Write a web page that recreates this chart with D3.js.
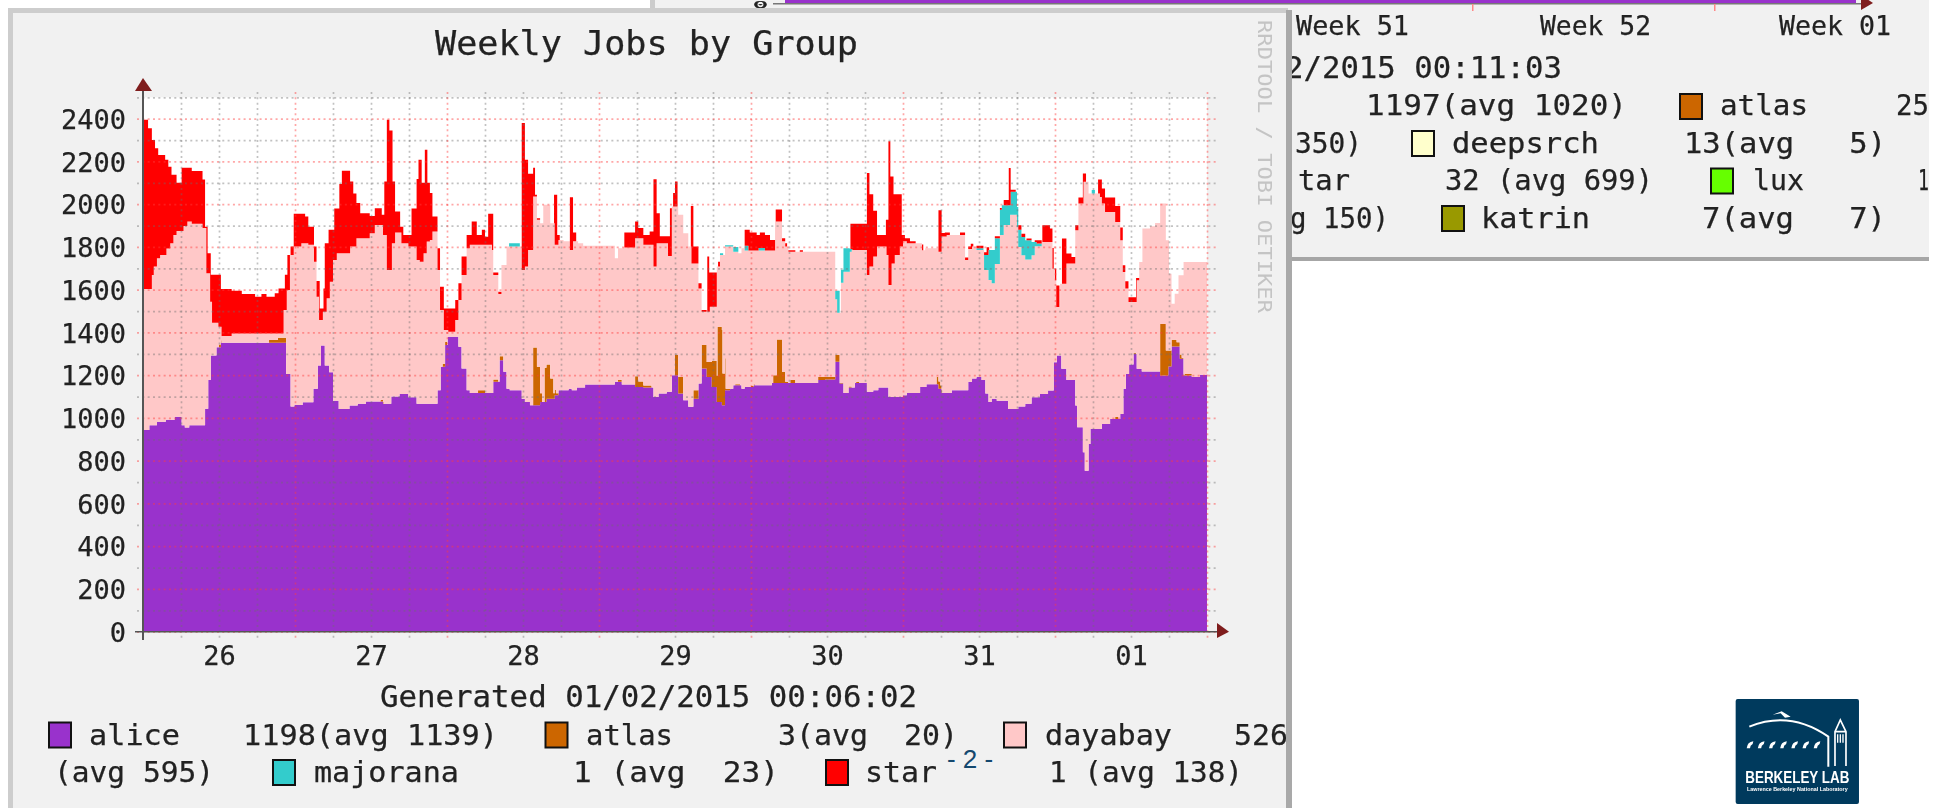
<!DOCTYPE html>
<html>
<head>
<meta charset="utf-8">
<script src="https://cdn.jsdelivr.net/npm/d3@7"></script>
<style>
  html, body { margin: 0; padding: 0; background: #fff; }
  svg { display: block; }
  text { font-family: "DejaVu Sans Mono", monospace; fill: #222; white-space: pre; stroke: #222; stroke-width: 0.25px; }
  .soft { filter: blur(0.55px); }
</style>
</head>
<body>
<svg id="slide" width="1946" height="808"></svg>
<script>
// every series is a list of [hours since the left edge, value], held until the next entry
var alice = [[0,943],[1,966],[2.2,982],[3.6,992],[5,1005],[6.1,966],[6.6,955],[7.3,966],[9.8,1043],[10.3,1177],[10.7,1292],[11.6,1331],[12.3,1352],[22.6,1206],[23.3,1053],[23.9,1061],[25.2,1073],[26.9,1136],[27.6,1245],[28.1,1339],[28.7,1245],[29.4,1214],[30,1081],[30.9,1042],[32.6,1058],[33.9,1066],[35.2,1077],[37.9,1066],[39.2,1100],[40.5,1112],[41.9,1097],[43.2,1066],[46.5,1130],[47,1239],[47.7,1341],[48.1,1380],[49.8,1333],[50.3,1231],[51.1,1130],[51.6,1117],[55.3,1169],[56.3,1270],[56.9,1216],[57.4,1137],[57.9,1130],[59.8,1090],[60.3,1075],[61.1,1059],[62.7,1075],[63.7,1090],[65,1106],[65.6,1130],[67.2,1137],[67.7,1130],[68.5,1142],[69.8,1156],[74.5,1169],[75.6,1156],[77.7,1145],[79,1142],[80.6,1098],[81.4,1114],[82.7,1122],[83.5,1200],[84.5,1114],[85.3,1083],[86.1,1052],[86.9,1090],[87.7,1161],[88.2,1231],[89,1192],[89.8,1145],[90.6,1075],[91.4,1059],[91.9,1130],[92.7,1137],[93.2,1153],[94.5,1137],[95,1145],[96.4,1153],[99.3,1164],[106.6,1177],[107.7,1180],[109.3,1263],[110,1161],[110.6,1117],[111.4,1142],[112.4,1164],[114.3,1122],[115.3,1130],[116.1,1142],[117.7,1098],[120,1106],[120.6,1117],[122.7,1145],[123.7,1158],[125.6,1137],[126.1,1117],[127.7,1130],[130.3,1169],[130.9,1184],[131.6,1192],[132.4,1177],[133,1114],[133.5,1075],[134,1090],[134.8,1080],[136.6,1042],[138.2,1053],[139.3,1066],[140.3,1097],[141.6,1112],[142.9,1128],[143.8,1261],[144.3,1292],[145,1230],[145.8,1178],[147.2,1058],[147.5,956],[148.4,839],[148.7,753],[149.3,878],[149.6,948],[151.4,972],[152.7,995],[154.3,1019],[154.8,1136],[155.2,1206],[155.7,1250],[156.4,1300],[156.9,1230],[157.7,1217],[160.6,1198],[161.9,1241],[162.4,1334],[163.7,1277],[164.3,1198],[165.6,1191],[166.9,1202]];
var atlas = [[0,0],[12,12],[12.4,0],[19.9,13],[21.3,23],[22.6,0],[37.5,8],[38,0],[47.3,15],[48,0],[52.9,12],[54,0],[55.3,11],[56.1,0],[56.3,19],[56.9,0],[61.6,271],[62.2,180],[62.7,40],[63,0],[63.4,160],[64.3,95],[64.8,25],[65.2,10],[65.6,0],[75,10],[75.6,0],[77.7,50],[78.2,25],[79,10],[80.3,0],[84,94],[84.5,78],[85.3,0],[86.9,40],[87.7,0],[88.2,110],[89,70],[89.8,122],[90.7,352],[91.5,149],[92,7],[92.7,0],[93.5,5],[94.3,0],[96,5],[96.6,0],[99.5,36],[100.1,203],[100.9,52],[101.4,5],[101.9,0],[102.2,13],[103,0],[106.6,15],[107.7,12],[109.3,31],[110,3],[110.6,0],[111.4,5],[111.9,0],[112.6,5],[113.1,0],[125.3,33],[125.9,15],[126.2,0],[153.5,10],[154,0],[156.4,5],[156.8,0],[160.6,242],[161.5,118],[161.9,75],[162.4,32],[163.2,20],[164,5],[164.5,8],[165.6,0]];
// the next three were read as the top edge of the stack, 0 = nothing of that group showing
var dayabayTop = [[0,1603],[1.4,1669],[1.7,1708],[2.2,1747],[2.7,1762],[3.7,1793],[4.3,1817],[4.8,1856],[5.3,1875],[6.4,1898],[7,1919],[7.7,1908],[9.4,1888],[10,1677],[10.6,1544],[10.9,1445],[11.9,1427],[12.4,1383],[14,1395],[22.2,1505],[22.7,1598],[23.2,1762],[23.8,1802],[25,1817],[26.1,1810],[27,1731],[27.4,1567],[27.8,1458],[28.4,1497],[29,1560],[29.5,1637],[30,1739],[30.6,1770],[32.7,1802],[33.7,1841],[35.8,1864],[36.6,1903],[37.9,1856],[38.5,1692],[39.3,1817],[39.8,1867],[40.8,1817],[41.9,1802],[43.2,1739],[43.7,1731],[44.3,1770],[44.8,1825],[45.3,1833],[45.7,1872],[46.5,1692],[46.9,1505],[47.5,1411],[48.2,1403],[49.3,1458],[49.8,1552],[50.3,1669],[51.1,1794],[51.6,1810],[55.1,1786],[55.3,1669],[56.1,1580],[56.6,1716],[57.4,1802],[59.8,1692],[60.3,1708],[60.8,1786],[61.6,2036],[62.2,1927],[62.7,1911],[63.2,1997],[64.3,1911],[65,1810],[65.6,1833],[66.4,1827],[67.4,1786],[67.9,1827],[68.7,1817],[69.5,1806],[74.5,1747],[75,1794],[75.8,1797],[77.7,1841],[79,1810],[80.6,1708],[81.1,1817],[82.9,1758],[83.5,1989],[84.5,1950],[85.3,1864],[86.1,1802],[86.6,1723],[87.7,1606],[88.2,1497],[89.5,1520],[90.6,1708],[91.1,1762],[91.9,1802],[93.2,1778],[94,1770],[94.5,1794],[95,1783],[99.8,1919],[100.9,1827],[101.4,1802],[101.9,1778],[109.3,1555],[109.6,1492],[110.2,1633],[110.6,1684],[111.6,1778],[111.9,1786],[114.3,1669],[114.7,1708],[115.3,1755],[115.9,1802],[117.4,1762],[117.7,1622],[118.2,1723],[118.7,1762],[119.5,1802],[120,1827],[120.6,1817],[123,1785],[123.5,1794],[125.6,1778],[126.1,1849],[126.9,1856],[129.8,1739],[130.3,1790],[130.9,1802],[131.6,1786],[132.8,1692],[133.5,1645],[134,1630],[134.5,1720],[135.3,1856],[135.9,1903],[136.9,1950],[138,1895],[138.2,1800],[138.7,1761],[139.3,1741],[140.3,1761],[140.8,1803],[141.9,1823],[143.6,1698],[144,1644],[144.2,1519],[144.8,1628],[145.8,1722],[147.2,1878],[147.7,2003],[148.5,2105],[149.3,2050],[151.1,2034],[151.4,2003],[151.9,1964],[153.5,1917],[154.3,1831],[154.7,1683],[155.1,1605],[155.6,1542],[156.9,1644],[157.3,1730],[157.8,1886],[159,1897],[159.8,1912],[160.6,2003],[161.5,1831],[162,1675],[162.4,1534],[162.9,1581],[163.5,1667],[164.3,1730]];
var majoranaTop = [[0,0],[57.8,1817],[59.5,0],[91.1,1770],[91.6,0],[91.9,1808],[93.2,1800],[94,0],[95,1806],[95.6,0],[97.2,1795],[98.2,0],[109.3,1595],[110,0],[110.2,1693],[110.6,1794],[111.6,1790],[112,0],[131.6,1794],[132.7,1762],[133.5,1786],[134.5,1841],[135.3,1974],[135.6,1995],[137,2058],[138,1987],[138.2,1880],[138.7,1847],[139.3,1831],[140.3,1823],[141.1,1816],[141.9,0],[149.8,2066],[150.3,0]];
var starTop = [[0,2395],[0.8,2355],[1.4,2300],[1.9,2262],[2.4,2230],[3.5,2208],[4,2175],[4.5,2138],[5.3,2100],[6.1,2170],[7.7,2155],[9.4,2115],[9.8,1895],[10.2,1770],[10.7,1670],[12.3,1603],[14,1595],[15.6,1580],[17.7,1567],[18.7,1580],[19.5,1567],[20.8,1583],[21.4,1606],[22.4,1670],[22.8,1762],[23.3,1802],[23.8,1955],[25.6,1942],[26.1,1895],[27,1802],[27.4,1641],[27.9,1512],[28.5,1606],[28.7,1817],[29.3,1880],[30.2,1980],[31,2094],[31.4,2156],[32.7,2106],[33.2,2050],[33.7,2005],[34.3,1958],[35.8,1945],[36.6,1981],[37.7,1950],[38.1,2106],[38.5,2395],[38.9,2345],[39.4,2106],[39.8,1966],[40.6,1895],[41.1,1856],[42.4,1980],[43.2,2118],[43.5,2208],[44,2100],[44.5,2255],[44.9,2100],[45.3,2052],[45.7,1942],[46.5,1794],[46.9,1614],[47.5,1512],[49.3,1552],[49.8,1630],[50.3,1755],[51.1,1856],[51.9,1919],[52.7,1856],[53.5,1880],[54,1848],[54.5,1955],[55.3,1680],[56.1,1590],[56.6,0],[59.8,2380],[60.3,2208],[60.8,2142],[61.6,2170],[61.9,2044],[62.2,1934],[62.7,0],[64.9,2044],[65.4,1856],[65.8,0],[67.4,2033],[67.9,1867],[68.4,0],[76,1867],[77.7,1919],[78.2,1888],[79,1856],[80,1872],[80.6,2117],[81.1,1958],[81.6,1850],[83.2,1981],[83.7,2052],[84,2106],[84.4,0],[86.5,1992],[86.9,1802],[87.7,1630],[88.2,1505],[89,0],[89.1,1755],[89.4,1680],[90.6,0],[90.8,1731],[91.2,0],[95,1880],[95.8,1867],[96.9,1856],[97.4,1867],[98.2,1856],[99,1833],[99.9,1975],[100.9,1841],[101.4,1817],[101.7,0],[101.9,1785],[103,0],[103.7,1785],[104.2,0],[111.7,1909],[114.3,2146],[114.7,2047],[115.3,1969],[115.9,1856],[117.3,1927],[117.7,2294],[118,2130],[118.5,2047],[119.8,1856],[120.3,1841],[121.1,1827],[122,0],[122.2,1811],[123.2,1777],[123.5,0],[125.6,1972],[126.1,1865],[126.6,1868],[127.4,0],[129,1868],[129.8,1750],[130.3,1802],[130.7,1815],[131.1,0],[131.6,1806],[132.7,1775],[133.2,1798],[133.6,0],[134.5,1850],[135.3,1982],[135.9,2020],[136.7,2169],[137,2067],[137.8,0],[138.2,1902],[138.7,1862],[139.3,0],[139.5,1839],[140.3,0],[140.8,1831],[141.9,0],[142,1902],[143.2,1886],[143.6,1795],[143.8,1698],[144.2,1620],[144.7,0],[145.1,1839],[145.8,1769],[146.6,1753],[147.2,1902],[147.7,2031],[148.4,2144],[148.9,0],[150.8,2116],[151.4,2073],[151.9,2031],[153.5,1991],[154.3,1891],[154.7,1714],[155.1,1640],[155.6,1565],[156.8,1655],[157.3,0]];

var groups = ["alice", "atlas", "dayabay", "majorana", "star"];
var groupColors = ["#9932cc", "#cc6600", "#ffc8c8", "#33cccc", "#ff0000"];
var yTicks = [0,200,400,600,800,1000,1200,1400,1600,1800,2000,2200,2400];
var yMinorTicks = [100,300,500,700,900,1100,1300,1500,1700,1900,2100,2300,2500];
var dayLabels = ["26","27","28","29","30","31","01"];
var dayCentres = [12,36,60,84,108,132,156];
var dayEdges = [24,48,72,96,120,144,168];
var sixHours = [6,12,18,30,36,42,54,60,66,78,84,90,102,108,114,126,132,138,150,156,162];

var svg = d3.select("#slide");
var soft = svg.append("g").attr("class", "soft");

// text helper, width is what the glyphs measure in the picture
function txt(parent, s, x, y, width, size) {
    var t = parent.append("text").attr("x", x).attr("y", y).attr("font-size", size).text(s);
    if (width) t.attr("textLength", width).attr("lengthAdjust", "spacingAndGlyphs");
    return t;
}
function swatch(parent, x, y, color) {
    parent.append("rect").attr("x", x).attr("y", y).attr("width", 22).attr("height", 25)
        .attr("fill", color).attr("stroke", "#111").attr("stroke-width", 2);
}

// ---- the chart behind, mostly covered
var back = soft.append("g");
back.append("rect").attr("x", 650).attr("y", 0).attr("width", 5).attr("height", 10).attr("fill", "#ccc");
back.append("rect").attr("x", 655).attr("y", 0).attr("width", 1274).attr("height", 257).attr("fill", "#f1f1f1");
back.append("rect").attr("x", 655).attr("y", 257).attr("width", 1274).attr("height", 4).attr("fill", "#a6a6a6");
back.append("rect").attr("x", 785).attr("y", 0).attr("width", 1071).attr("height", 3).attr("fill", "#9932cc");
back.append("rect").attr("x", 773).attr("y", 3).attr("width", 1090).attr("height", 1.5).attr("fill", "#777");
back.append("path").attr("d", "M1861,-5L1873,3L1861,10Z").attr("fill", "#7f1d1d");
[1472, 1714].forEach(function(x) {
    back.append("rect").attr("x", x).attr("y", 4).attr("width", 1.5).attr("height", 7).attr("fill", "#f88");
});
txt(back, "0", 753, 8, 15, 8.5);
txt(back, "Week 51", 1296, 35, 113, 27);
txt(back, "Week 52", 1540, 35, 111, 27);
txt(back, "Week 01", 1779, 35, 112, 27);
txt(back, "2/2015 00:11:03", 1285, 78, 277, 30);
txt(back, "1197(avg 1020)", 1366, 115, 261, 29);
swatch(back, 1680, 94, "#cc6600");
txt(back, "atlas", 1720, 115, 88, 29);
txt(back, "25", 1896, 115, 33, 29);
txt(back, "350)", 1295, 152.7, 67, 29);
swatch(back, 1412, 131, "#ffffcc");
txt(back, "deepsrch", 1452, 152.7, 147, 29);
txt(back, "13(avg   5)", 1684, 152.7, 202, 29);
txt(back, "tar", 1298, 190, 52, 29);
txt(back, "32 (avg 699)", 1445, 190, 208, 29);
swatch(back, 1711, 168.5, "#66ff00");
txt(back, "lux", 1753, 190, 51, 29);
txt(back, "1", 1918, 190, 11, 29);
txt(back, "g 150)", 1290, 227.7, 99, 29);
swatch(back, 1442, 206, "#999900");
txt(back, "katrin", 1481, 227.7, 109, 29);
txt(back, "7(avg   7)", 1702, 227.7, 184, 29);

// ---- the chart in front
var front = soft.append("g");
front.append("rect").attr("x", 8).attr("y", 8).attr("width", 1280).attr("height", 800).attr("fill", "#cdcdcd");
front.append("rect").attr("x", 13).attr("y", 13).attr("width", 1273).attr("height", 795).attr("fill", "#f1f1f1");

var margin = {top: 97.3, left: 143, bottom: 631.7, right: 1207};
var x = d3.scaleLinear().domain([0, 168]).range([margin.left, margin.right]);
var y = d3.scaleLinear().domain([0, 2500]).range([margin.bottom, margin.top]);

front.append("rect").attr("x", x(0)).attr("y", y(2500)).attr("width", x(168) - x(0)).attr("height", y(0) - y(2500)).attr("fill", "#fff");

// all the times at which something changes
var times = d3.sort(Array.from(new Set(
    [alice, atlas, dayabayTop, majoranaTop, starTop].flatMap(function(s) { return s.map(function(p) { return p[0]; }); })
    .concat([168]))));

function valueAt(series, t) {
    var i = d3.bisectRight(series.map(function(p) { return p[0]; }), t) - 1;
    return series[Math.max(i, 0)][1];
}

var rows = times.map(function(t) {
    var a = valueAt(alice, t),
        b = valueAt(atlas, t),
        c = Math.max(valueAt(dayabayTop, t) - a - b, 0),
        d = Math.max(valueAt(majoranaTop, t) - a - b - c, 0),
        e = Math.max(valueAt(starTop, t) - a - b - c - d, 0);
    return {t: t, alice: a, atlas: b, dayabay: c, majorana: d, star: e};
});

var stacked = d3.stack().keys(groups)(rows);
var color = d3.scaleOrdinal().domain(groups).range(groupColors);
var area = d3.area().curve(d3.curveStepAfter)
    .x(function(d) { return x(d.data.t); })
    .y0(function(d) { return y(d[0]); })
    .y1(function(d) { return y(d[1]); });

front.append("g").selectAll("path")
    .data(stacked)
    .enter().append("path")
        .attr("fill", function(d) { return color(d.key); })
        .attr("d", area);

// grids go over the areas, like rrdtool does
function vGrid(ticks, stroke) {
    var g = front.append("g").attr("transform", "translate(0," + (margin.bottom + 6) + ")")
        .call(d3.axisBottom(x).tickValues(ticks).tickSize(-(margin.bottom - margin.top + 13)).tickFormat(""));
    g.select(".domain").remove();
    g.selectAll("line").attr("stroke", stroke).attr("stroke-width", 1.7).attr("stroke-dasharray", "2 3.33");
}
function hGrid(ticks, stroke) {
    var g = front.append("g").attr("transform", "translate(" + (margin.left - 6) + ",0)")
        .call(d3.axisLeft(y).tickValues(ticks).tickSize(-(margin.right - margin.left + 15)).tickFormat(""));
    g.select(".domain").remove();
    g.selectAll("line").attr("stroke", stroke).attr("stroke-width", 1.7).attr("stroke-dasharray", "2 3.33");
}
vGrid(sixHours, "rgba(110,110,110,0.42)");
hGrid(yMinorTicks, "rgba(110,110,110,0.42)");
vGrid(dayEdges, "rgba(255,60,60,0.45)");
hGrid(yTicks, "rgba(255,60,60,0.45)");

// axis lines and arrows
front.append("line").attr("x1", x(0)).attr("x2", x(0)).attr("y1", 90).attr("y2", 640).attr("stroke", "#555").attr("stroke-width", 2);
front.append("line").attr("x1", 135).attr("x2", 1218).attr("y1", y(0)).attr("y2", y(0)).attr("stroke", "#555").attr("stroke-width", 1.6);
front.append("path").attr("d", "M143,78L152,91L135,91Z").attr("fill", "#7f1d1d");
front.append("path").attr("d", "M1217,623L1229,631.7L1217,638Z").attr("fill", "#7f1d1d");

// tick labels
var yAxis = front.append("g").attr("transform", "translate(" + margin.left + ",0)")
    .call(d3.axisLeft(y).tickValues(yTicks).tickSize(0).tickPadding(17).tickFormat(d3.format("d")));
yAxis.select(".domain").remove();
yAxis.selectAll("text").attr("font-size", 27).attr("font-family", "DejaVu Sans Mono").attr("dy", "0.36em");

var xAxis = front.append("g").attr("transform", "translate(0," + margin.bottom + ")")
    .call(d3.axisBottom(x).tickValues(dayCentres).tickSize(0)
        .tickFormat(function(d, i) { return dayLabels[i]; }));
xAxis.select(".domain").remove();
xAxis.selectAll("text").attr("font-size", 27).attr("font-family", "DejaVu Sans Mono").attr("y", 33).attr("dy", 0);

// title, footer, legend
txt(front, "Weekly Jobs by Group", 435, 55, 423, 33);
txt(front, "Generated 01/02/2015 00:06:02", 380, 707, 537, 30);
txt(front, "RRDTOOL / TOBI OETIKER", 0, 0, 293, 19)
    .attr("transform", "translate(1258,20) rotate(90)")
    .style("fill", "#c4c4c4").style("stroke", "none");

swatch(front, 49, 722.5, color("alice"));
txt(front, "alice", 89, 745, 91, 29);
txt(front, "1198(avg 1139)", 243, 745, 255, 29);
swatch(front, 545.5, 722.5, color("atlas"));
txt(front, "atlas", 586, 745, 87, 29);
txt(front, "3(avg  20)", 778, 745, 180, 29);
swatch(front, 1004, 722.5, color("dayabay"));
txt(front, "dayabay", 1045, 745, 127, 29);
txt(front, "526", 1234, 745, 54, 29);
txt(front, "(avg 595)", 54, 782, 160, 29);
swatch(front, 273, 760, color("majorana"));
txt(front, "majorana", 314, 782, 145, 29);
txt(front, "1 (avg  23)", 573, 782, 206, 29);
swatch(front, 826, 760, color("star"));
txt(front, "star", 865, 782, 72, 29);
txt(front, "1 (avg 138)", 1049, 782, 194, 29);

front.append("rect").attr("x", 1286).attr("y", 10).attr("width", 6).attr("height", 798).attr("fill", "#a9a9a9");

// ---- logo, drawn in a 3x grid of its own
var logo = soft.append("g").attr("transform", "translate(1700,680) scale(0.3333)");
logo.append("rect").attr("x", 107).attr("y", 57).attr("width", 370).attr("height", 315).attr("rx", 6).attr("fill", "#003a5d");
logo.append("path").attr("d", "M148,140Q270,90 385,170L385,260").attr("fill", "none").attr("stroke", "#fff").attr("stroke-width", 6);
logo.append("path").attr("d", "M218,104L245,94L272,110L255,113L242,100Z").attr("fill", "#fff");
logo.append("path").attr("d", "M405,258V155L421,120L438,155V258M405,155H438").attr("fill", "none").attr("stroke", "#fff").attr("stroke-width", 5);
logo.append("path").attr("d", "M413,163V188M421,163V188M429,163V188").attr("stroke", "#fff").attr("stroke-width", 4);
d3.range(7).forEach(function(i) {
    logo.append("path").attr("d", "M" + (140 + i * 33.5) + ",205Q" + (142 + i * 33.5) + ",186 " + (160 + i * 33.5) + ",184L" + (158 + i * 33.5) + ",192Q" + (150 + i * 33.5) + ",196 " + (150 + i * 33.5) + ",205Z").attr("fill", "#fff");
});
logo.append("text").attr("x", 292).attr("y", 310).attr("text-anchor", "middle")
    .attr("textLength", 312).attr("lengthAdjust", "spacingAndGlyphs")
    .style("font-family", "Liberation Sans").style("font-weight", "bold").style("font-size", "47px").style("fill", "#fff").style("stroke", "none")
    .text("BERKELEY LAB");
logo.append("text").attr("x", 292).attr("y", 333).attr("text-anchor", "middle")
    .attr("textLength", 302).attr("lengthAdjust", "spacingAndGlyphs")
    .style("font-family", "Liberation Sans").style("font-weight", "bold").style("font-size", "16px").style("fill", "#fff").style("stroke", "none")
    .text("Lawrence Berkeley National Laboratory");

// page number sits over the legend
svg.append("text").attr("x", 970).attr("y", 768).attr("text-anchor", "middle")
    .style("font-family", "Liberation Sans").style("font-size", "26px").style("fill", "#14486e").style("stroke", "none")
    .text("- 2 -");
</script>
</body>
</html>
